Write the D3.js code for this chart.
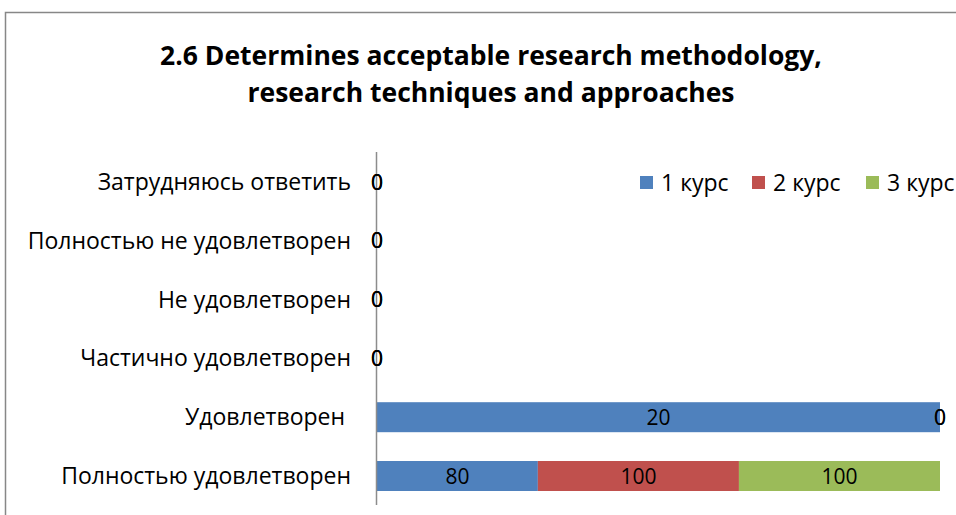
<!DOCTYPE html>
<html lang="ru">
<head>
  <meta charset="UTF-8">
  <title>2.6 Determines acceptable research methodology</title>
  <script src="https://d3js.org/d3.v7.min.js"></script>
  <style>
    body { margin: 0; background: #fff; }
    svg { display: block; font-family: "Open Sans", "Liberation Sans", sans-serif; }
    .cat-label { white-space: pre; }
  </style>
</head>
<body>
<div id="chart"></div>
<script>
  // Данные
  var categories = ['Затрудняюсь ответить', 'Полностью не удовлетворен', 'Не удовлетворен',
    'Частично удовлетворен', 'Удовлетворен ', 'Полностью удовлетворен'];
  var seriesNames = ['1 курс', '2 курс', '3 курс'];
  var course1 = [0, 0, 0, 0, 20, 80];
  var course2 = [0, 0, 0, 0, 0, 100];
  var course3 = [0, 0, 0, 0, 0, 100];
  var colors = ['#4F81BD', '#C0504D', '#9BBB59'];
  var titleLines = ['2.6 Determines acceptable research methodology,', 'research techniques and approaches'];

  var W = 956, H = 515;
  var svg = d3.select('#chart').append('svg').attr('width', W).attr('height', H);

  // рамка диаграммы
  svg.append('rect')
    .attr('x', 5.5).attr('y', 12.5)
    .attr('width', 1000).attr('height', 600)
    .attr('fill', 'none').attr('stroke', '#878787').attr('stroke-width', 1.5);

  // заголовок
  svg.append('text')
    .attr('x', 491).attr('y', 65)
    .attr('text-anchor', 'middle')
    .style('font-size', '26.5px').style('font-weight', 'bold')
    .selectAll('tspan').data(titleLines).enter().append('tspan')
    .attr('x', 491)
    .attr('dy', function(d, i) { return i === 0 ? 0 : 37; })
    .text(function(d) { return d; });

  var rows = categories.map(function(c, i) {
    return { cat: c, s0: course1[i], s1: course2[i], s2: course3[i] };
  });

  // 100% накопление
  var stack = d3.stack().keys(['s0', 's1', 's2']).offset(d3.stackOffsetExpand);
  var layers = stack(rows);

  var x = d3.scaleLinear().domain([0, 1]).range([377, 940]);
  var y = d3.scaleBand().domain(categories).range([152.6, 505.4]).paddingInner(0.49).paddingOuter(0.245);

  // столбцы
  var g = svg.selectAll('.layer').data(layers).enter().append('g')
    .attr('fill', function(d, i) { return colors[i]; });

  g.selectAll('rect').data(function(d) { return d; }).enter().append('rect')
    .attr('x', function(d) { return x(d[0]); })
    .attr('y', function(d) { return y(d.data.cat); })
    .attr('width', function(d) { return x(d[1]) - x(d[0]); })
    .attr('height', y.bandwidth());

  // ось категорий
  svg.append('line')
    .attr('x1', 376.5).attr('x2', 376.5)
    .attr('y1', 152).attr('y2', 505)
    .attr('stroke', '#8c8c8c').attr('stroke-width', 1.5);

  svg.selectAll('.cat-label').data(categories).enter().append('text')
    .attr('class', 'cat-label')
    .attr('x', 351)
    .attr('y', function(d) { return y(d) + y.bandwidth() / 2; })
    .attr('dy', '0.35em')
    .attr('text-anchor', 'end')
    .style('font-size', '23px')
    .attr('fill', '#000')
    .text(function(d) { return d; });

  // подписи данных
  layers.forEach(function(layer, li) {
    svg.selectAll('.lbl' + li).data(layer).enter().append('text')
      .attr('x', function(d) { return (x(d[0]) + x(d[1])) / 2; })
      .attr('y', function(d) { return y(d.data.cat) + y.bandwidth() / 2; })
      .attr('dy', '0.36em')
      .attr('text-anchor', 'middle')
      .style('font-size', '21px')
      .attr('fill', '#000')
      .text(function(d) { return d.data[layer.key]; });
  });

  // легенда
  var legendX = [640, 752, 866];
  var legend = svg.selectAll('.legend').data(seriesNames).enter().append('g')
    .attr('transform', function(d, i) { return 'translate(' + legendX[i] + ',183)'; });
  legend.append('rect')
    .attr('x', 0).attr('y', -7).attr('width', 13).attr('height', 13)
    .attr('fill', function(d, i) { return colors[i]; });
  legend.append('text')
    .attr('x', 21).attr('dy', '0.35em')
    .style('font-size', '23px')
    .text(function(d) { return d; });
</script>
</body>
</html>
